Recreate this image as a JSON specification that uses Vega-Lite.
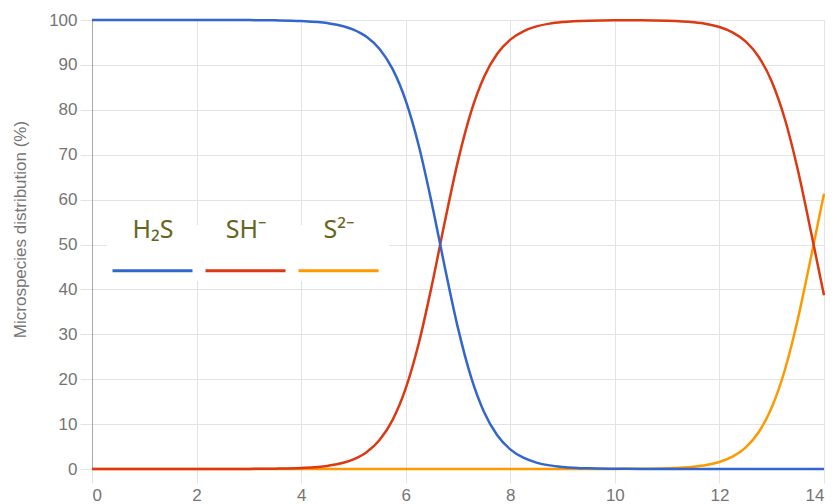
{
  "$schema": "https://vega.github.io/schema/vega-lite/v6.json",
  "width": 732,
  "height": 449,
  "autosize": {"type": "none"},
  "padding": {"left": 92, "top": 20, "right": 13, "bottom": 35},
  "background": "white",
  "config": {
    "view": {"stroke": null},
    "axis": {
      "labelFont": "Liberation Sans",
      "labelFontSize": 17,
      "labelColor": "#757575",
      "titleFont": "Liberation Sans",
      "titleFontSize": 17,
      "titleFontWeight": "normal",
      "titleColor": "#757575",
      "gridColor": "#e3e3e3",
      "gridWidth": 1,
      "tickColor": "#e3e3e3"
    }
  },
  "data": {
    "values": [
      {"pH": 0, "species": "S²⁻", "pct": 0},
      {"pH": 1, "species": "S²⁻", "pct": 0},
      {"pH": 2, "species": "S²⁻", "pct": 0},
      {"pH": 3, "species": "S²⁻", "pct": 0},
      {"pH": 4, "species": "S²⁻", "pct": 0},
      {"pH": 5, "species": "S²⁻", "pct": 0},
      {"pH": 6, "species": "S²⁻", "pct": 0},
      {"pH": 7, "species": "S²⁻", "pct": 0},
      {"pH": 8, "species": "S²⁻", "pct": 0},
      {"pH": 9, "species": "S²⁻", "pct": 0},
      {"pH": 9.5, "species": "S²⁻", "pct": 0.01},
      {"pH": 10, "species": "S²⁻", "pct": 0.02},
      {"pH": 10.5, "species": "S²⁻", "pct": 0.05},
      {"pH": 11, "species": "S²⁻", "pct": 0.16},
      {"pH": 11.5, "species": "S²⁻", "pct": 0.5},
      {"pH": 11.75, "species": "S²⁻", "pct": 0.88},
      {"pH": 12, "species": "S²⁻", "pct": 1.56},
      {"pH": 12.25, "species": "S²⁻", "pct": 2.74},
      {"pH": 12.5, "species": "S²⁻", "pct": 4.77},
      {"pH": 12.75, "species": "S²⁻", "pct": 8.18},
      {"pH": 13, "species": "S²⁻", "pct": 13.68},
      {"pH": 13.25, "species": "S²⁻", "pct": 21.99},
      {"pH": 13.5, "species": "S²⁻", "pct": 33.39},
      {"pH": 13.75, "species": "S²⁻", "pct": 47.12},
      {"pH": 14, "species": "S²⁻", "pct": 61.31},

      {"pH": 0, "species": "SH⁻", "pct": 0},
      {"pH": 1, "species": "SH⁻", "pct": 0},
      {"pH": 2, "species": "SH⁻", "pct": 0},
      {"pH": 3, "species": "SH⁻", "pct": 0.02},
      {"pH": 3.5, "species": "SH⁻", "pct": 0.07},
      {"pH": 4, "species": "SH⁻", "pct": 0.22},
      {"pH": 4.5, "species": "SH⁻", "pct": 0.69},
      {"pH": 5, "species": "SH⁻", "pct": 2.14},
      {"pH": 5.25, "species": "SH⁻", "pct": 3.74},
      {"pH": 5.5, "species": "SH⁻", "pct": 6.47},
      {"pH": 5.75, "species": "SH⁻", "pct": 10.95},
      {"pH": 6, "species": "SH⁻", "pct": 17.95},
      {"pH": 6.25, "species": "SH⁻", "pct": 28.0},
      {"pH": 6.5, "species": "SH⁻", "pct": 40.9},
      {"pH": 6.75, "species": "SH⁻", "pct": 55.16},
      {"pH": 7, "species": "SH⁻", "pct": 68.63},
      {"pH": 7.25, "species": "SH⁻", "pct": 79.55},
      {"pH": 7.5, "species": "SH⁻", "pct": 87.37},
      {"pH": 7.75, "species": "SH⁻", "pct": 92.48},
      {"pH": 8, "species": "SH⁻", "pct": 95.63},
      {"pH": 8.25, "species": "SH⁻", "pct": 97.49},
      {"pH": 8.5, "species": "SH⁻", "pct": 98.57},
      {"pH": 8.75, "species": "SH⁻", "pct": 99.19},
      {"pH": 9, "species": "SH⁻", "pct": 99.54},
      {"pH": 9.5, "species": "SH⁻", "pct": 99.85},
      {"pH": 10, "species": "SH⁻", "pct": 99.94},
      {"pH": 10.5, "species": "SH⁻", "pct": 99.94},
      {"pH": 11, "species": "SH⁻", "pct": 99.84},
      {"pH": 11.5, "species": "SH⁻", "pct": 99.5},
      {"pH": 11.75, "species": "SH⁻", "pct": 99.12},
      {"pH": 12, "species": "SH⁻", "pct": 98.44},
      {"pH": 12.25, "species": "SH⁻", "pct": 97.26},
      {"pH": 12.5, "species": "SH⁻", "pct": 95.23},
      {"pH": 12.75, "species": "SH⁻", "pct": 91.82},
      {"pH": 13, "species": "SH⁻", "pct": 86.32},
      {"pH": 13.25, "species": "SH⁻", "pct": 78.01},
      {"pH": 13.5, "species": "SH⁻", "pct": 66.61},
      {"pH": 13.75, "species": "SH⁻", "pct": 52.88},
      {"pH": 14, "species": "SH⁻", "pct": 38.69},

      {"pH": 0, "species": "H₂S", "pct": 100},
      {"pH": 1, "species": "H₂S", "pct": 100},
      {"pH": 2, "species": "H₂S", "pct": 100},
      {"pH": 3, "species": "H₂S", "pct": 99.98},
      {"pH": 3.5, "species": "H₂S", "pct": 99.93},
      {"pH": 4, "species": "H₂S", "pct": 99.78},
      {"pH": 4.5, "species": "H₂S", "pct": 99.31},
      {"pH": 5, "species": "H₂S", "pct": 97.86},
      {"pH": 5.25, "species": "H₂S", "pct": 96.26},
      {"pH": 5.5, "species": "H₂S", "pct": 93.53},
      {"pH": 5.75, "species": "H₂S", "pct": 89.05},
      {"pH": 6, "species": "H₂S", "pct": 82.05},
      {"pH": 6.25, "species": "H₂S", "pct": 72.0},
      {"pH": 6.5, "species": "H₂S", "pct": 59.1},
      {"pH": 6.75, "species": "H₂S", "pct": 44.84},
      {"pH": 7, "species": "H₂S", "pct": 31.37},
      {"pH": 7.25, "species": "H₂S", "pct": 20.45},
      {"pH": 7.5, "species": "H₂S", "pct": 12.63},
      {"pH": 7.75, "species": "H₂S", "pct": 7.52},
      {"pH": 8, "species": "H₂S", "pct": 4.37},
      {"pH": 8.25, "species": "H₂S", "pct": 2.51},
      {"pH": 8.5, "species": "H₂S", "pct": 1.43},
      {"pH": 8.75, "species": "H₂S", "pct": 0.81},
      {"pH": 9, "species": "H₂S", "pct": 0.46},
      {"pH": 9.5, "species": "H₂S", "pct": 0.14},
      {"pH": 10, "species": "H₂S", "pct": 0.05},
      {"pH": 10.5, "species": "H₂S", "pct": 0.01},
      {"pH": 11, "species": "H₂S", "pct": 0},
      {"pH": 12, "species": "H₂S", "pct": 0},
      {"pH": 13, "species": "H₂S", "pct": 0},
      {"pH": 14, "species": "H₂S", "pct": 0}
    ]
  },
  "mark": {"type": "line", "interpolate": "monotone", "strokeWidth": 2.5},
  "encoding": {
    "x": {
      "field": "pH",
      "type": "quantitative",
      "scale": {"domain": [0, 14], "nice": false},
      "axis": {
        "title": null,
        "values": [0, 2, 4, 6, 8, 10, 12, 14],
        "domain": false,
        "tickSize": 14,
        "labelPadding": 4
      }
    },
    "y": {
      "field": "pct",
      "type": "quantitative",
      "scale": {"domain": [0, 100], "nice": false},
      "axis": {
        "title": "Microspecies distribution (%)",
        "values": [0, 10, 20, 30, 40, 50, 60, 70, 80, 90, 100],
        "domain": true,
        "domainColor": "#a8a8a8",
        "tickSize": 12,
        "labelPadding": 3,
        "titleX": -72,
        "titleY": 209,
        "titleBaseline": "middle",
        "titleAlign": "center",
        "titleAngle": -90
      }
    },
    "color": {
      "field": "species",
      "type": "nominal",
      "scale": {
        "domain": ["H₂S", "SH⁻", "S²⁻"],
        "range": ["#3366cc", "#dc3912", "#ff9900"]
      },
      "legend": {
        "title": null,
        "orient": "none",
        "legendX": 15,
        "legendY": 205,
        "direction": "horizontal",
        "fillColor": "white",
        "padding": 4,
        "symbolType": "stroke",
        "symbolSize": 6400,
        "symbolStrokeWidth": 3,
        "labelFont": "Noto Sans",
        "labelFontSize": 25,
        "labelColor": "#66661e",
        "labelAlign": "center",
        "labelOffset": -41,
        "columnPadding": 0,
        "encoding": {"labels": {"dy": {"value": -41}}}
      }
    }
  }
}
